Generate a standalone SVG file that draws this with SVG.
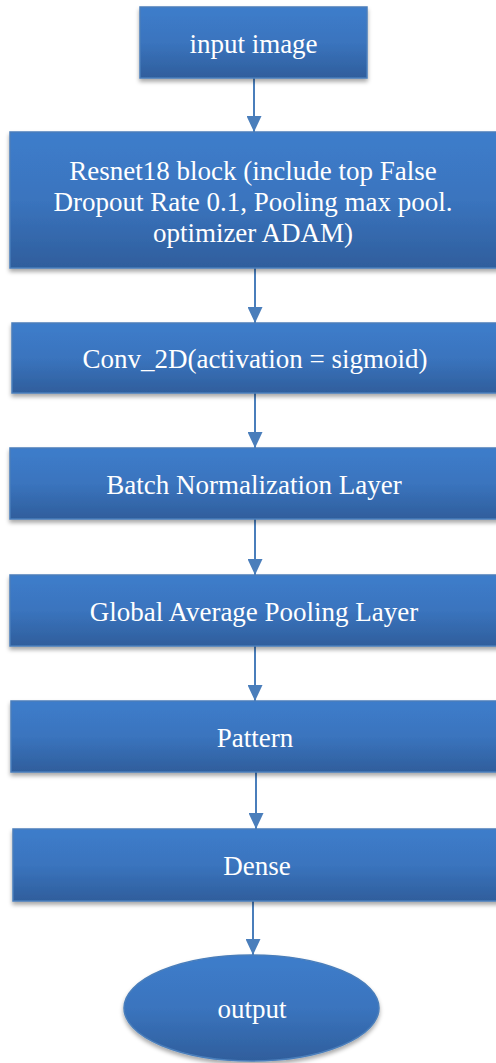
<svg xmlns="http://www.w3.org/2000/svg" width="496" height="1063" viewBox="0 0 496 1063">
<defs>
<linearGradient id="g" x1="0" y1="0" x2="0" y2="1">
<stop offset="0" stop-color="#3D7DCB"/>
<stop offset="0.5" stop-color="#3A74BE"/>
<stop offset="1" stop-color="#2F5E9C"/>
</linearGradient>
<filter id="sh" x="-10%" y="-10%" width="120%" height="130%">
<feDropShadow dx="0" dy="3" stdDeviation="2" flood-color="#000" flood-opacity="0.35"/>
</filter>
<marker id="arr" markerWidth="16" markerHeight="15" refX="16" refY="7.5" orient="auto" markerUnits="userSpaceOnUse">
<path d="M0,0 L16,7.5 L0,15 Z" fill="#4A7EBB"/>
</marker>
</defs>
<style>
.box{fill:url(#g);stroke:#4A7EBB;stroke-width:1.5;filter:url(#sh);}
.t{font-family:'Liberation Serif','Times New Roman','DejaVu Serif',serif;font-size:27px;fill:#fff;text-anchor:middle;}
.c{stroke:#4A7EBB;stroke-width:2;fill:none;marker-end:url(#arr);}
</style>
<rect width="496" height="1063" fill="#fff"/>
<g id="connectors">
<line class="c" x1="254" y1="78" x2="254" y2="132"/>
<line class="c" x1="255" y1="268" x2="255" y2="323"/>
<line class="c" x1="255" y1="393" x2="255" y2="448"/>
<line class="c" x1="255" y1="519" x2="255" y2="575"/>
<line class="c" x1="255" y1="646" x2="255" y2="701"/>
<line class="c" x1="256" y1="772" x2="256" y2="829"/>
<line class="c" x1="253" y1="901" x2="253" y2="955"/>
</g>
<g font-family="Liberation Serif, serif">
<g id="n-input">
<rect class="box" x="140" y="7" width="227" height="71"/>
<text class="t" x="253.5" y="53">input image</text>
</g>
<g id="n-resnet">
<rect class="box" x="10" y="132" width="500" height="136"/>
<text class="t" x="253" y="180">Resnet18 block (include top False</text>
<text class="t" x="253" y="211">Dropout Rate 0.1, Pooling max pool.</text>
<text class="t" x="253" y="242">optimizer ADAM)</text>
</g>
<g id="n-conv">
<rect class="box" x="12" y="323" width="498" height="70"/>
<text class="t" x="255" y="368">Conv_2D(activation = sigmoid)</text>
</g>
<g id="n-batch">
<rect class="box" x="10" y="448" width="500" height="71"/>
<text class="t" x="254" y="494">Batch Normalization Layer</text>
</g>
<g id="n-gap">
<rect class="box" x="10" y="575" width="500" height="71"/>
<text class="t" x="254" y="621">Global Average Pooling Layer</text>
</g>
<g id="n-pattern">
<rect class="box" x="11" y="701" width="499" height="71"/>
<text class="t" x="255" y="747">Pattern</text>
</g>
<g id="n-dense">
<rect class="box" x="13" y="829" width="497" height="72"/>
<text class="t" x="257" y="875">Dense</text>
</g>
<g id="n-output">
<ellipse class="box" cx="251.5" cy="1008" rx="127.5" ry="53"/>
<text class="t" x="252" y="1018">output</text>
</g>
</g>
</svg>
